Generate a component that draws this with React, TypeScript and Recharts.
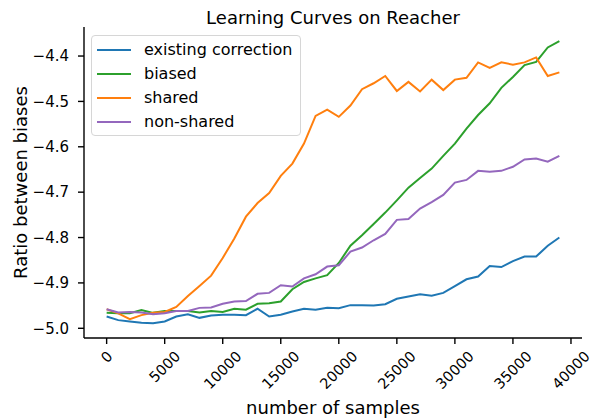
import { LineChart, Line, XAxis, YAxis, Legend, Label } from "recharts"

const FONT = "DejaVu Sans, sans-serif"

const samples = [
  0, 1000, 2000, 3000, 4000, 5000, 6000, 7000, 8000, 9000,
  10000, 11000, 12000, 13000, 14000, 15000, 16000, 17000, 18000, 19000,
  20000, 21000, 22000, 23000, 24000, 25000, 26000, 27000, 28000, 29000,
  30000, 31000, 32000, 33000, 34000, 35000, 36000, 37000, 38000, 39000,
]

const existingCorrection = [
  -4.974, -4.982, -4.985, -4.988, -4.989, -4.985, -4.974, -4.969, -4.977, -4.972,
  -4.97, -4.97, -4.971, -4.957, -4.974, -4.97, -4.963, -4.957, -4.959, -4.955,
  -4.956, -4.949, -4.949, -4.95, -4.947, -4.935, -4.93, -4.925, -4.928, -4.922,
  -4.907, -4.892, -4.886, -4.863, -4.865, -4.852, -4.842, -4.842, -4.818, -4.8,
]

const biased = [
  -4.966, -4.967, -4.967, -4.96, -4.966, -4.962, -4.962, -4.962, -4.965, -4.962,
  -4.964, -4.957, -4.959, -4.946, -4.945, -4.941, -4.914, -4.898, -4.89, -4.883,
  -4.856, -4.818, -4.795, -4.77, -4.745, -4.718, -4.69, -4.669, -4.648, -4.62,
  -4.593, -4.56, -4.53, -4.504, -4.47, -4.446, -4.42, -4.413, -4.381, -4.367,
]

const shared = [
  -4.958, -4.967, -4.98, -4.971, -4.966, -4.964, -4.953, -4.929, -4.907, -4.884,
  -4.845, -4.802, -4.754, -4.724, -4.702, -4.664, -4.637, -4.593, -4.532, -4.518,
  -4.534, -4.509, -4.473, -4.46, -4.444, -4.477, -4.457, -4.478, -4.452, -4.475,
  -4.452, -4.448, -4.414, -4.426, -4.414, -4.419, -4.414, -4.403, -4.444, -4.436,
]

const nonShared = [
  -4.958, -4.965, -4.964, -4.965, -4.969, -4.967, -4.962, -4.962, -4.955, -4.954,
  -4.946, -4.941, -4.94, -4.924, -4.922, -4.905, -4.908, -4.89, -4.881, -4.864,
  -4.861, -4.831, -4.822, -4.806, -4.792, -4.761, -4.759, -4.736, -4.722, -4.706,
  -4.679, -4.673, -4.653, -4.655, -4.653, -4.644, -4.628, -4.626, -4.633, -4.62,
]

const xTicks = [0, 5000, 10000, 15000, 20000, 25000, 30000, 35000, 40000]
const yTicks = [-5.0, -4.9, -4.8, -4.7, -4.6, -4.5, -4.4]

const series = [
  { key: "existing", name: "existing correction", color: "#1f77b4", values: existingCorrection },
  { key: "biased", name: "biased", color: "#2ca02c", values: biased },
  { key: "shared", name: "shared", color: "#ff7f0e", values: shared },
  { key: "nonShared", name: "non-shared", color: "#9467bd", values: nonShared },
]

const data = samples.map((x, i) => {
  const row: Record<string, number> = { x }
  series.forEach((s) => (row[s.key] = s.values[i]))
  return row
})

const TICK_FS = 15
const XTICK_FS = 14.5

function XTick({ x, y, payload }: any) {
  const label = String(payload.value)
  const len = label.length * 0.636 * XTICK_FS
  const h = 0.73 * XTICK_FS
  const top = y + 2
  const cy = top + (len + h) / (2 * Math.SQRT2)
  return (
    <text
      x={x}
      y={cy}
      textAnchor="middle"
      dominantBaseline="central"
      transform={`rotate(-45 ${x} ${cy})`}
      fontSize={XTICK_FS}
      fontFamily={FONT}
      fill="#000"
    >
      {label}
    </text>
  )
}

function LegendBox() {
  return (
    <div
      style={{
        width: 210,
        height: 101,
        border: "1px solid #d6d6d6",
        borderRadius: 4,
        background: "rgba(255,255,255,0.8)",
        fontFamily: FONT,
        fontSize: 16,
        paddingTop: 2,
        boxSizing: "border-box",
      }}
    >
      {series.map((s) => (
        <div key={s.key} style={{ display: "flex", alignItems: "center", height: 24 }}>
          <div style={{ marginLeft: 5, width: 34, height: 2, background: s.color }} />
          <span style={{ marginLeft: 13, color: "#000", lineHeight: "24px" }}>{s.name}</span>
        </div>
      ))}
    </div>
  )
}

export default function App() {
  return (
    <div style={{ position: "absolute", left: 0, top: 0, width: 592, height: 419, background: "#fff" }}>
      <div
        style={{
          position: "absolute",
          left: 84,
          width: 498,
          top: 7,
          textAlign: "center",
          fontFamily: FONT,
          fontSize: 18,
          lineHeight: "21px",
          color: "#000",
        }}
      >
        Learning Curves on Reacher
      </div>
      <LineChart
        width={592}
        height={419}
        data={data}
        margin={{ top: 27, right: 10, bottom: 21, left: 24 }}
      >
        <XAxis
          dataKey="x"
          type="number"
          domain={[-1950, 40950]}
          ticks={xTicks}
          allowDataOverflow
          height={60}
          tickSize={6}
          tickMargin={4}
          tick={<XTick />}
          stroke="#000"
          axisLine={{ stroke: "#000", strokeWidth: 1.4 }}
          tickLine={{ stroke: "#000", strokeWidth: 1.4 }}
        >
          <Label
            content={({ viewBox }: any) => (
              <text
                x={viewBox.x + viewBox.width / 2}
                y={414}
                textAnchor="middle"
                fontSize={18}
                fontFamily={FONT}
                fill="#000"
              >
                number of samples
              </text>
            )}
          />
        </XAxis>
        <YAxis
          type="number"
          domain={[-5.0214, -4.336]}
          ticks={yTicks}
          allowDataOverflow
          width={60}
          tickSize={6}
          tickMargin={9}
          tickFormatter={(v: number) => v.toFixed(1).replace("-", "\u2212")}
          tick={{ fontSize: TICK_FS, fontFamily: FONT, fill: "#000" }}
          axisLine={{ stroke: "#000", strokeWidth: 1.4 }}
          tickLine={{ stroke: "#000", strokeWidth: 1.4 }}
        >
          <Label
            content={({ viewBox }: any) => {
              const cx = 27
              const cy = viewBox.y + viewBox.height / 2
              return (
                <text
                  x={cx}
                  y={cy}
                  textAnchor="middle"
                  fontSize={18}
                  fontFamily={FONT}
                  fill="#000"
                  transform={`rotate(-90 ${cx} ${cy})`}
                >
                  Ratio between biases
                </text>
              )
            }}
          />
        </YAxis>
        {series.map((s) => (
          <Line
            key={s.key}
            dataKey={s.key}
            name={s.name}
            stroke={s.color}
            strokeWidth={2}
            dot={false}
            type="linear"
            isAnimationActive={false}
          />
        ))}
        <Legend
          layout="vertical"
          align="center"
          verticalAlign="middle"
          wrapperStyle={{ top: 35, left: 91, width: "auto" }}
          content={() => <LegendBox />}
        />
      </LineChart>
    </div>
  )
}
